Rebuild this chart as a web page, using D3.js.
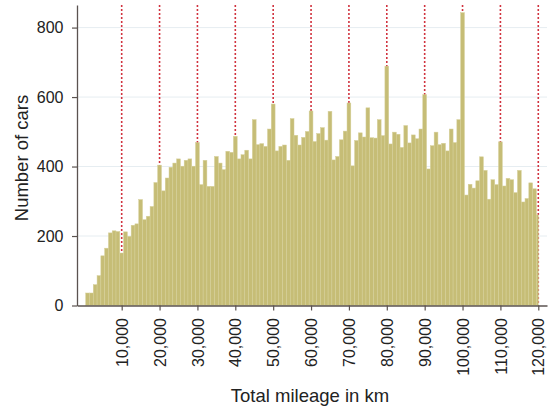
<!DOCTYPE html>
<html>
<head>
<meta charset="utf-8">
<script src="https://cdn.jsdelivr.net/npm/d3@7"></script>
<style>
  html, body { margin: 0; padding: 0; background: #fff; }
  svg { display: block; font-family: "Liberation Sans", Arial, sans-serif; }
</style>
</head>
<body>
<div id="chart"></div>
<script>
// bin centres in km (1,000 km bins), last bin is cut at 120,000
const binCenters = d3.range(1, 121).map(k => k * 1000);
const carCounts = [
  36, 36, 60, 86, 143, 165, 209, 215, 213, 151,
  212, 199, 231, 235, 305, 247, 257, 285, 354, 404,
  330, 367, 398, 410, 422, 401, 418, 422, 401, 469,
  348, 418, 343, 343, 429, 410, 391, 444, 441, 487,
  422, 434, 447, 422, 535, 463, 466, 458, 508, 580,
  445, 458, 462, 418, 538, 490, 462, 484, 501, 560,
  472, 495, 512, 476, 559, 419, 429, 477, 502, 583,
  402, 475, 497, 485, 569, 483, 482, 535, 489, 689,
  465, 499, 493, 455, 518, 468, 491, 480, 508, 607,
  393, 460, 499, 463, 467, 445, 508, 469, 535, 843,
  318, 349, 338, 359, 428, 389, 306, 362, 348, 471,
  344, 366, 362, 325, 389, 298, 308, 353, 336, 261
];
const xTicks = d3.range(10000, 120001, 10000);
const yTicks = [0, 200, 400, 600, 800];

const width = 552, height = 411;
const binWidth = 1000;

const svg = d3.select('#chart').append('svg')
  .attr('width', width)
  .attr('height', height);

const x = d3.scaleLinear().domain([-1800, 122300]).range([77, 547]);
const y = d3.scaleLinear().domain([0, 865]).range([305.5, 5]);

// light horizontal grid
svg.append('g')
  .selectAll('line')
  .data(yTicks.filter(d => d > 0))
  .enter().append('line')
  .attr('x1', x.range()[0]).attr('x2', x.range()[1])
  .attr('y1', d => y(d)).attr('y2', d => y(d))
  .attr('stroke', '#e6edf1')
  .attr('stroke-width', 1);

// red dotted markers every 10,000 km (behind bars)
svg.append('g')
  .selectAll('line')
  .data(xTicks)
  .enter().append('line')
  .attr('x1', d => x(d)).attr('x2', d => x(d))
  .attr('y1', y.range()[1]).attr('y2', y(0))
  .attr('stroke', '#d1333f')
  .attr('stroke-width', 1.6)
  .attr('stroke-dasharray', '2,2');

// bars
const data = binCenters.map((c, i) => ({ c, v: carCounts[i] }));
svg.append('g')
  .selectAll('rect')
  .data(data)
  .enter().append('rect')
  .attr('x', d => x(d.c - binWidth / 2))
  .attr('width', d => x(Math.min(d.c + binWidth / 2, 120000)) - x(d.c - binWidth / 2))
  .attr('y', d => y(d.v))
  .attr('height', d => y(0) - y(d.v))
  .attr('fill', '#c6bd76')
  .attr('stroke', '#d6d09a')
  .attr('stroke-width', 0.5);

// axes
const xAxis = svg.append('g')
  .attr('transform', `translate(0,${y(0)})`)
  .call(d3.axisBottom(x).tickValues(xTicks).tickSize(5).tickSizeOuter(0)
    .tickFormat(d3.format(',')));
xAxis.select('.domain').attr('stroke', '#5b5350').attr('stroke-width', 1.3);
xAxis.selectAll('.tick line').attr('stroke', '#5b5350').attr('stroke-width', 1.2);
xAxis.selectAll('.tick text')
  .attr('transform', 'rotate(-90)')
  .attr('text-anchor', 'end')
  .attr('x', -12.5)
  .attr('y', 0)
  .attr('dy', '0.35em')
  .attr('font-size', 16)
  .attr('fill', '#222');

const yAxis = svg.append('g')
  .attr('transform', `translate(${x.range()[0]},0)`)
  .call(d3.axisLeft(y).tickValues(yTicks).tickSize(5).tickSizeOuter(0));
yAxis.select('.domain').attr('stroke', '#5b5350').attr('stroke-width', 1.3);
yAxis.selectAll('.tick line').attr('stroke', '#5b5350').attr('stroke-width', 1.2);
yAxis.selectAll('.tick text')
  .attr('x', -13.5)
  .attr('font-size', 16)
  .attr('fill', '#222');

// titles
svg.append('text')
  .attr('x', 310).attr('y', 402)
  .attr('text-anchor', 'middle')
  .attr('font-size', 18.5)
  .attr('fill', '#222')
  .text('Total mileage in km');

svg.append('text')
  .attr('transform', 'translate(28,158) rotate(-90)')
  .attr('text-anchor', 'middle')
  .attr('font-size', 18.5)
  .attr('fill', '#222')
  .text('Number of cars');
</script>
</body>
</html>
